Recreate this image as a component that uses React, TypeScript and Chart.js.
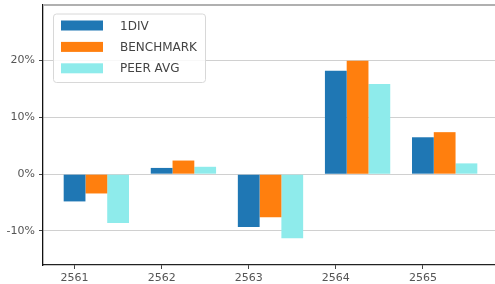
import React, { useEffect, useRef } from "react";
import { Chart, registerables } from "chart.js";

Chart.register(...registerables);

const years = ["2561", "2562", "2563", "2564", "2565"];
const seriesNames = ["1DIV", "BENCHMARK", "PEER AVG"];
const div1 = [-4.8, 1.1, -9.3, 18.2, 6.5];
const benchmark = [-3.4, 2.4, -7.6, 20.0, 7.4];
const peerAvg = [-8.6, 1.3, -11.3, 15.9, 1.9];
const colors = ["#1f77b4", "#ff7f0e", "#8eebeb"];
const yTicks = [-10, 0, 10, 20];

const FONT = "'DejaVu Sans', sans-serif";

const frameAndLegend = {
  id: "frameAndLegend",
  afterDraw(chart: any) {
    const { ctx, chartArea } = chart;
    ctx.save();
    // top frame line
    ctx.strokeStyle = "#b0b0b0";
    ctx.lineWidth = 2;
    ctx.beginPath();
    ctx.moveTo(chartArea.left, chartArea.top);
    ctx.lineTo(chartArea.right, chartArea.top);
    ctx.stroke();

    // legend box
    const bx = chartArea.left + 10;
    const by = chartArea.top + 8.5;
    const bw = 152;
    const bh = 68.5;
    ctx.fillStyle = "rgba(255,255,255,0.85)";
    ctx.strokeStyle = "#d8d8d8";
    ctx.lineWidth = 1;
    ctx.beginPath();
    (ctx as any).roundRect(bx + 0.5, by + 0.5, bw, bh, 3);
    ctx.fill();
    ctx.stroke();

    chart.data.datasets.forEach((ds: any, i: number) => {
      const py = by + 7 + i * 21.4;
      ctx.fillStyle = ds.backgroundColor;
      ctx.fillRect(bx + 8, py, 42, 10);
      ctx.fillStyle = "#444";
      ctx.font = `12px ${FONT}`;
      ctx.textBaseline = "middle";
      ctx.textAlign = "left";
      ctx.fillText(ds.label, bx + 67, py + 6);
    });
    ctx.restore();
  },
};

export default function App() {
  const ref = useRef<HTMLCanvasElement | null>(null);

  useEffect(() => {
    if (!ref.current) return;
    const series = [div1, benchmark, peerAvg];
    const chart = new Chart(ref.current, {
      type: "bar",
      data: {
        datasets: series.map((vals, k) => ({
          label: seriesNames[k],
          data: vals.map((v, i) => ({ x: i + 0.25, y: v })),
          backgroundColor: colors[k],
          borderWidth: 0,
          categoryPercentage: 0.75,
          barPercentage: 1,
        })),
      },
      options: {
        animation: false,
        responsive: false,
        devicePixelRatio: 1,
        layout: { padding: { top: 5, left: 0, right: 0, bottom: 0 } },
        plugins: {
          legend: { display: false },
          tooltip: { enabled: false },
        },
        scales: {
          x: {
            type: "linear",
            offset: false,
            min: -0.3625,
            max: 4.8625,
            afterFit: (s: any) => {
              s.height = 19;
              s.paddingLeft = 0;
              s.paddingRight = 0;
            },
            afterBuildTicks: (s: any) => {
              s.ticks = years.map((_, i) => ({ value: i }));
            },
            ticks: {
              autoSkip: false,
              maxRotation: 0,
              padding: 3,
              color: "#555",
              font: { family: FONT, size: 11 },
              callback: (v: any) =>
                years[Math.round(Number(v))] !== undefined ? years[Math.round(Number(v))] : "",
            },
            grid: {
              display: true,
              offset: false,
              drawOnChartArea: false,
              drawTicks: true,
              tickLength: 4,
              tickColor: "#444",
            },
            border: { display: true, color: "#222", width: 1.2 },
          },
          y: {
            type: "linear",
            min: -16,
            max: 29.8,
            afterFit: (s: any) => {
              s.width = 43;
              s.paddingTop = 0;
              s.paddingBottom = 0;
            },
            afterBuildTicks: (s: any) => {
              s.ticks = yTicks.map((v) => ({ value: v }));
            },
            ticks: {
              padding: 4,
              color: "#555",
              font: { family: FONT, size: 11 },
              callback: (v: any) => `${v}%`,
            },
            grid: {
              color: "#d0d0d0",
              lineWidth: 1,
              tickLength: 4,
              tickColor: "#444",
            },
            border: { display: true, color: "#111", width: 1.3 },
          },
        },
      },
      plugins: [frameAndLegend],
    });
    return () => chart.destroy();
  }, []);

  return (
    <div
      style={{
        position: "absolute",
        left: 0,
        top: 0,
        width: 495,
        height: 284,
        overflow: "hidden",
        background: "#fff",
      }}
    >
      <canvas ref={ref} width={498} height={284} style={{ display: "block" }} />
    </div>
  );
}
